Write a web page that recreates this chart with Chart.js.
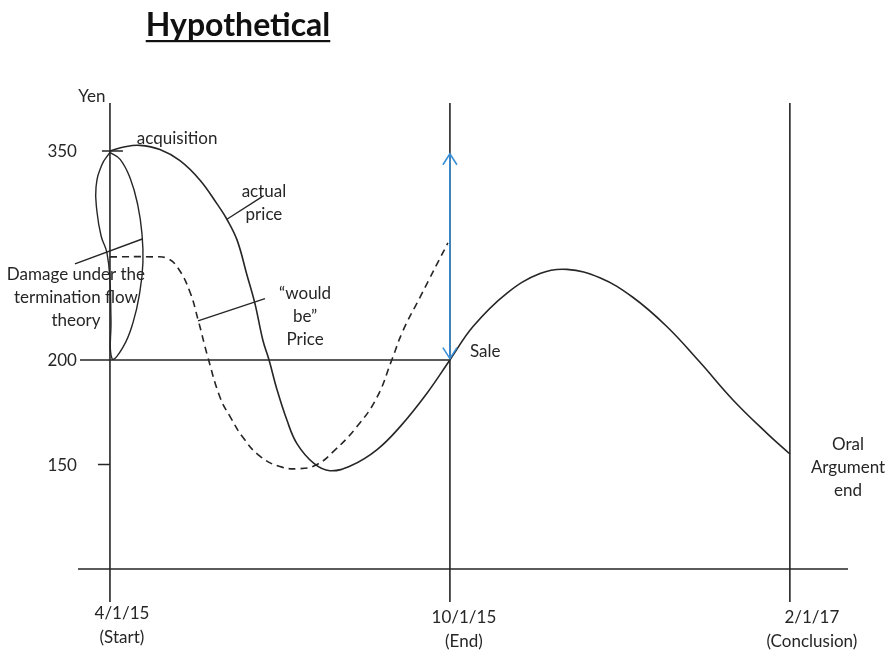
<!DOCTYPE html>
<html>
<head>
<meta charset="utf-8">
<script src="https://cdn.jsdelivr.net/npm/chart.js@4.4.1/dist/chart.umd.min.js"></script>
<style>
  html, body { margin: 0; padding: 0; background: #fff; }
  #wrap { width: 891px; height: 651px; }
</style>
</head>
<body>
<div id="wrap"><canvas id="chart"></canvas></div>
<script>
// Timeline is a sketch: the three dates sit at evenly spaced positions 0, 1, 2
const datePos = [0, 1, 2];
const dateLabels = [['4/1/15', '(Start)'], ['10/1/15', '(End)'], ['2/1/17', '(Conclusion)']];

// Price axis is not to scale either: each yen tick sits on its own level
const yenTicks = [150, 200, 350];
const yenLevels = [1, 2, 4];

// actual price (yen) along the timeline
const actualX   = [0, 0.044, 0.088, 0.147, 0.206, 0.265, 0.315, 0.344, 0.374, 0.403, 0.426, 0.45, 0.468, 0.491, 0.521, 0.55, 0.6, 0.647, 0.71, 0.785, 0.853, 0.932, 1.0, 1.068, 1.168, 1.265, 1.344, 1.441, 1.538, 1.638, 1.735, 1.832, 1.932, 2.0];
const actualYen = [350, 353, 354, 351, 343, 329, 312, 301, 286, 261, 241, 214, 200, 186, 171, 160, 150.5, 147, 149.5, 157, 168, 184, 200, 224, 248, 262, 265, 259, 245, 224, 199, 181, 165, 155];

// "would be" price (dashed)
const wouldBeX   = [0, 0.126, 0.168, 0.2, 0.235, 0.259, 0.288, 0.324, 0.353, 0.391, 0.441, 0.5, 0.559, 0.609, 0.656, 0.726, 0.785, 0.829, 0.862, 0.912, 0.994];
const wouldBeYen = [274, 274, 273, 266, 249, 229, 202, 182, 173, 163, 154, 149, 148, 150, 156, 168, 182, 200, 221, 245, 284];

// loop marking the damage under the termination flow theory
const damageX   = [0, -0.024, -0.041, -0.038, -0.026, -0.009, 0, 0.003, 0.006, 0.038, 0.068, 0.088, 0.097, 0.094, 0.082, 0.06, 0.03, 0];
const damageYen = [349, 340, 324, 306, 289, 277, 257, 229, 201, 209, 227, 249, 270, 291, 311, 330, 344, 349];

// gap at the sale date (blue double arrow)
const saleArrowX   = [1, 1];
const saleArrowYen = [348, 201];

// leader lines from the notes to the curves
const leaderActual  = { x: [0.344, 0.447], yen: [301, 317] };
const leaderWouldBe = { x: [0.259, 0.456], yen: [228, 244] };
const leaderDamage  = { x: [-0.103, 0.097], yen: [269, 287] };

const ink = '#262626';
const blue = '#3a8fd6';
const font = 'Lato, "Open Sans", sans-serif';

// yen -> level on the sketched axis
function toLevel(yen) {
    let i = 0;
    while (i < yenTicks.length - 2 && yen > yenTicks[i + 1]) i++;
    const y0 = yenTicks[i], y1 = yenTicks[i + 1];
    const l0 = yenLevels[i], l1 = yenLevels[i + 1];
    return l0 + (yen - y0) * (l1 - l0) / (y1 - y0);
}

function points(xs, ys) {
    return xs.map((x, i) => ({ x: x, y: toLevel(ys[i]) }));
}

function lineSet(label, xs, ys, extra) {
    return Object.assign({
        label: label,
        data: points(xs, ys),
        borderColor: ink,
        borderWidth: 1.6,
        pointRadius: 0,
        fill: false,
        tension: 0
    }, extra || {});
}

// notes: first line centre (timeline pos, yen), following lines go down
const notes = [
    { lines: ['acquisition'], x: 0.079, yen: 359, align: 'left' },
    { lines: ['actual', 'price'], x: 0.453, yen: 321, align: 'center' },
    { lines: ['\u201cwould', 'be\u201d', 'Price'], x: 0.574, yen: 248, align: 'center' },
    { lines: ['Damage under the', 'termination flow', 'theory'], x: -0.1, yen: 261, align: 'center' },
    { lines: ['Sale'], x: 1.059, yen: 206, align: 'left' },
    { lines: ['Oral', 'Argument', 'end'], x: 2.171, yen: 159.5, align: 'center' },
    { lines: ['Yen'], x: -0.053, yen: 389, align: 'center' }
];

const sketchPlugin = {
    id: 'sketch',
    beforeDatasetsDraw(chart) {
        const { ctx, chartArea, scales } = chart;
        const xs = scales.x, ys = scales.y;
        const y0 = ys.getPixelForValue(0);
        ctx.save();
        ctx.strokeStyle = ink;
        ctx.lineWidth = 1.6;
        ctx.beginPath();
        // time axis
        ctx.moveTo(chartArea.left, y0);
        ctx.lineTo(chartArea.right, y0);
        // price axis and the date lines
        datePos.forEach(p => {
            const px = xs.getPixelForValue(p);
            ctx.moveTo(px, chartArea.top);
            ctx.lineTo(px, chartArea.bottom);
        });
        // 200 yen level up to the sale
        const y200 = ys.getPixelForValue(toLevel(200));
        ctx.moveTo(chartArea.left + 2, y200);
        ctx.lineTo(xs.getPixelForValue(1), y200);
        // small ticks
        const ax = xs.getPixelForValue(0);
        const y350 = ys.getPixelForValue(toLevel(350));
        ctx.moveTo(ax - 8, y350);
        ctx.lineTo(ax + 13, y350);
        const y150 = ys.getPixelForValue(toLevel(150));
        ctx.moveTo(ax - 12, y150);
        ctx.lineTo(ax, y150);
        ctx.stroke();
        ctx.restore();
    },
    afterDatasetsDraw(chart) {
        const { ctx, scales } = chart;
        const xs = scales.x, ys = scales.y;
        ctx.save();

        // arrow heads on the sale gap
        ctx.strokeStyle = blue;
        ctx.lineWidth = 1.6;
        const ax = xs.getPixelForValue(saleArrowX[0]);
        const top = ys.getPixelForValue(toLevel(saleArrowYen[0]));
        const bot = ys.getPixelForValue(toLevel(saleArrowYen[1]));
        ctx.beginPath();
        ctx.moveTo(ax - 7, top + 11); ctx.lineTo(ax, top); ctx.lineTo(ax + 7, top + 11);
        ctx.moveTo(ax - 7, bot - 11); ctx.lineTo(ax, bot); ctx.lineTo(ax + 7, bot - 11);
        ctx.stroke();

        ctx.fillStyle = ink;
        ctx.font = '17px ' + font;
        ctx.textBaseline = 'middle';

        // yen tick labels
        ctx.textAlign = 'right';
        yenTicks.forEach(v => {
            ctx.fillText(String(v), xs.getPixelForValue(0) - 33, ys.getPixelForValue(toLevel(v)) + 1);
        });

        // date labels under the lines
        const dx = [12, 14, 22];
        const dy = [45, 49, 49];
        const base = ys.getPixelForValue(0);
        ctx.textAlign = 'center';
        dateLabels.forEach((lines, i) => {
            const px = xs.getPixelForValue(datePos[i]) + dx[i];
            lines.forEach((t, j) => ctx.fillText(t, px, base + dy[i] + j * 24));
        });

        // notes
        notes.forEach(n => {
            ctx.textAlign = n.align;
            const px = xs.getPixelForValue(n.x);
            const py = ys.getPixelForValue(toLevel(n.yen));
            n.lines.forEach((t, j) => ctx.fillText(t, px, py + j * 23));
        });

        // title
        ctx.font = 'bold 32px ' + font;
        ctx.textAlign = 'center';
        ctx.fillStyle = '#111';
        ctx.fillText('Hypothetical', 238, 26);
        const w = ctx.measureText('Hypothetical').width;
        ctx.fillRect(238 - w / 2, 40, w, 2.2);

        ctx.restore();
    }
};

const ctx = document.getElementById('chart').getContext('2d');
new Chart(ctx, {
    type: 'line',
    data: {
        datasets: [
            lineSet('Actual price', actualX, actualYen, { tension: 0.4 }),
            lineSet('"Would be" price', wouldBeX, wouldBeYen, { tension: 0.45, borderDash: [7, 5] }),
            lineSet('Damage', damageX, damageYen, { tension: 0.45, borderWidth: 1.4 }),
            lineSet('Sale gap', saleArrowX, saleArrowYen, { borderColor: blue }),
            lineSet('leader actual', leaderActual.x, leaderActual.yen, { borderWidth: 1.4 }),
            lineSet('leader would be', leaderWouldBe.x, leaderWouldBe.yen, { borderWidth: 1.4 }),
            lineSet('leader damage', leaderDamage.x, leaderDamage.yen, { borderWidth: 1.4 })
        ]
    },
    options: {
        responsive: true,
        maintainAspectRatio: false,
        animation: false,
        layout: { padding: { left: 78, right: 43, top: 103, bottom: 49 } },
        plugins: {
            legend: { display: false },
            title: { display: false },
            tooltip: { enabled: false }
        },
        scales: {
            x: { type: 'linear', min: -0.094, max: 2.171, display: false },
            y: { type: 'linear', min: -0.316, max: 4.459, display: false }
        },
        clip: false
    },
    plugins: [sketchPlugin]
});
</script>
</body>
</html>
